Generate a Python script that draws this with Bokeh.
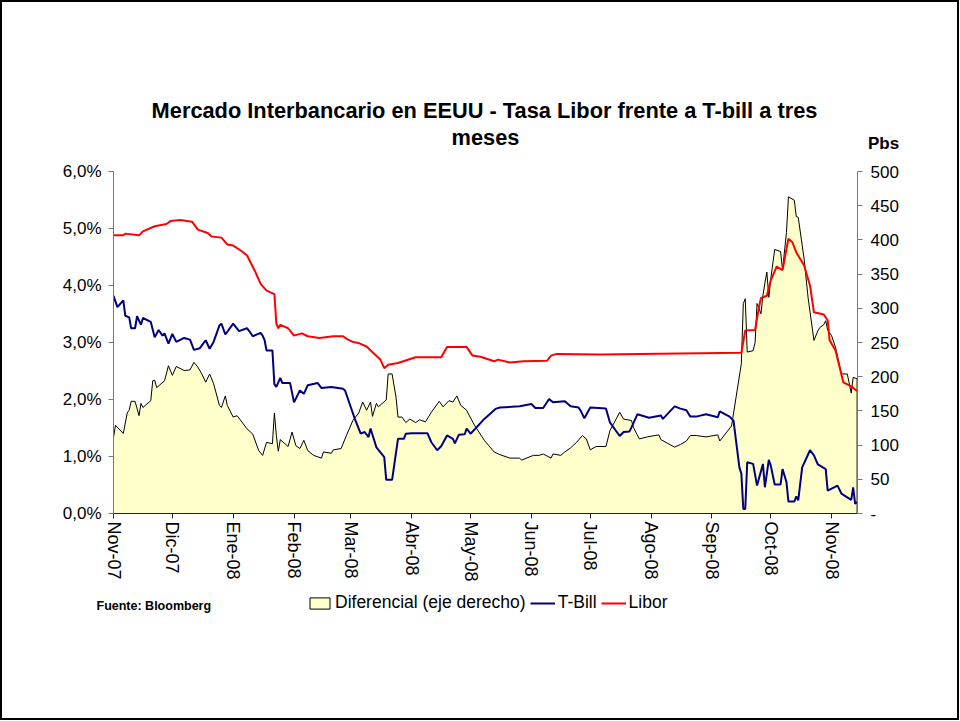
import pandas as pd
from bokeh.plotting import figure
from bokeh.layouts import column
from bokeh.models import (Range1d, LinearAxis, FixedTicker, Label, Legend, LegendItem)
from bokeh.embed import file_html
from bokeh.resources import INLINE

# ---------------- data ----------------
inicio = "2007-11-01"
meses_fechas = ["2007-11-01", "2007-12-01", "2008-01-01", "2008-02-01", "2008-03-01",
                "2008-04-01", "2008-05-01", "2008-06-01", "2008-07-01", "2008-08-01",
                "2008-09-01", "2008-10-01", "2008-11-01"]
meses_etiquetas = ["Nov-07", "Dic-07", "Ene-08", "Feb-08", "Mar-08", "Abr-08", "May-08",
                   "Jun-08", "Jul-08", "Ago-08", "Sep-08", "Oct-08", "Nov-08"]
fin_dias = 379.2

# Libor 3M (%), days since start
libor_dia = [0, 5, 6, 13, 15, 21, 27, 29, 34, 40, 43, 48, 50, 55, 58, 61, 65, 68, 72, 75,
             78, 82, 83, 84, 85, 89, 92, 96, 99, 105, 112, 117, 119, 122, 125, 129, 132, 136, 138, 140,
             145, 154, 167, 170, 180, 183, 187, 194, 196, 202, 209, 221, 223, 226, 248, 268, 320, 322, 327, 329,
             330, 333, 335, 338, 341, 344, 346, 348, 352, 355, 357, 362, 364, 365, 368, 372, 376, 379]
libor = [4.88, 4.88, 4.91, 4.88, 4.95, 5.04, 5.08, 5.13, 5.15, 5.12, 4.98, 4.92, 4.86, 4.84, 4.72, 4.70, 4.61, 4.53, 4.26, 4.03,
         3.91, 3.85, 3.33, 3.25, 3.31, 3.25, 3.12, 3.16, 3.11, 3.08, 3.11, 3.11, 3.06, 3.01, 2.99, 2.93, 2.83, 2.70, 2.55, 2.61,
         2.64, 2.74, 2.74, 2.92, 2.92, 2.77, 2.75, 2.67, 2.70, 2.65, 2.67, 2.68, 2.77, 2.80, 2.79, 2.80, 2.82, 3.21, 3.22, 3.62,
         3.78, 3.82, 4.09, 4.33, 4.27, 4.82, 4.76, 4.58, 4.35, 4.00, 3.53, 3.49, 3.39, 3.04, 2.86, 2.30, 2.23, 2.15]

# T-Bill 3M (%)
tbill_dia = [0, 2, 5, 6, 8, 9, 11, 12, 14, 15, 19, 21, 23, 25, 26, 28, 30, 32, 36, 39,
             41, 44, 47, 49, 51, 54, 55, 57, 61, 64, 68, 69, 71, 75, 76, 77, 78, 81, 82, 83,
             85, 86, 90, 92, 95, 97, 99, 104, 106, 111, 117, 118, 121, 123, 126, 128, 130, 131, 134, 138,
             139, 142, 145, 148, 149, 152, 160, 162, 165, 167, 170, 173, 174, 176, 179, 180, 182, 189, 195, 197,
             207, 213, 215, 219, 222, 224, 230, 233, 237, 238, 240, 243, 251, 253, 258, 260, 263, 264, 267, 273,
             279, 280, 286, 289, 292, 294, 297, 302, 308, 309, 314, 316, 319, 320, 321, 322, 323, 326, 328, 331,
             332, 334, 335, 337, 340, 341, 343, 344, 347, 348, 349, 351, 355, 357, 359, 363, 364, 369, 371, 376,
             377, 378, 379]
tbill = [3.82, 3.62, 3.74, 3.47, 3.44, 3.25, 3.25, 3.46, 3.31, 3.43, 3.36, 3.09, 3.22, 3.12, 3.16, 2.98, 3.15, 3.01, 3.08, 3.05,
         2.87, 2.90, 3.04, 2.89, 3.01, 3.30, 3.33, 3.14, 3.33, 3.20, 3.25, 3.21, 3.11, 3.17, 3.12, 3.04, 2.86, 2.86, 2.27, 2.22,
         2.38, 2.29, 2.29, 1.95, 2.16, 2.10, 2.25, 2.29, 2.20, 2.22, 2.19, 2.16, 1.86, 1.66, 1.40, 1.43, 1.34, 1.49, 1.16, 0.99,
         0.59, 0.59, 1.31, 1.31, 1.40, 1.41, 1.41, 1.25, 1.11, 1.18, 1.37, 1.31, 1.23, 1.38, 1.39, 1.49, 1.40, 1.66, 1.84, 1.86,
         1.88, 1.92, 1.85, 1.85, 2.01, 1.95, 1.97, 1.88, 1.86, 1.81, 1.67, 1.86, 1.84, 1.60, 1.36, 1.43, 1.44, 1.51, 1.74, 1.68,
         1.72, 1.66, 1.88, 1.84, 1.81, 1.70, 1.70, 1.74, 1.69, 1.79, 1.70, 1.63, 0.81, 0.70, 0.08, 0.08, 0.90, 0.87, 0.49, 0.87,
         0.46, 0.94, 0.84, 0.51, 0.51, 0.78, 0.55, 0.21, 0.21, 0.30, 0.23, 0.81, 1.11, 1.02, 0.86, 0.78, 0.40, 0.49, 0.35, 0.24,
         0.46, 0.17, 0.20]

# Diferencial Libor - T-Bill (pbs, right axis)
dif_dia = [0, 1, 5, 7, 8, 9, 11, 13, 14, 15, 19, 20, 21, 22, 26, 28, 30, 32, 36, 39,
           41, 43, 45, 47, 49, 51, 54, 55, 57, 58, 61, 63, 68, 71, 74, 76, 78, 81, 82, 83,
           84, 85, 89, 91, 93, 95, 97, 99, 102, 106, 107, 111, 112, 116, 119, 122, 125, 127, 129, 131,
           132, 134, 135, 139, 140, 142, 144, 145, 147, 149, 151, 154, 156, 159, 162, 166, 168, 171, 173, 175,
           177, 180, 181, 184, 189, 194, 197, 202, 207, 208, 214, 217, 219, 223, 224, 228, 230, 233, 236, 239,
           241, 243, 246, 251, 253, 258, 260, 264, 265, 268, 272, 278, 279, 286, 289, 292, 294, 297, 302, 308,
           309, 315, 320, 321, 322, 323, 326, 327, 328, 330, 331, 332, 333, 334, 335, 337, 340, 341, 343, 344,
           347, 348, 349, 352, 354, 357, 359, 360, 362, 363, 364, 366, 368, 371, 374, 376, 377, 379]
dif = [111, 129, 117, 147, 151, 164, 164, 143, 161, 155, 165, 194, 195, 184, 194, 216, 202, 215, 209, 210,
       221, 214, 204, 192, 204, 190, 158, 155, 172, 158, 141, 143, 124, 116, 92, 85, 104, 102, 147, 114,
       91, 108, 98, 119, 99, 95, 107, 92, 85, 81, 90, 88, 93, 95, 116, 136, 147, 163, 151, 163,
       142, 161, 156, 166, 204, 204, 170, 141, 141, 133, 138, 133, 137, 134, 148, 164, 156, 165, 163, 172,
       158, 151, 145, 129, 107, 90, 86, 81, 81, 78, 85, 85, 87, 81, 87, 85, 90, 96, 104, 114,
       109, 93, 98, 98, 121, 148, 138, 136, 126, 109, 112, 115, 108, 97, 101, 106, 114, 114, 112, 115,
       106, 128, 219, 307, 314, 236, 238, 250, 307, 292, 319, 337, 353, 316, 343, 386, 383, 356, 411, 463,
       458, 434, 433, 372, 316, 253, 267, 272, 276, 282, 268, 260, 243, 204, 204, 176, 199, 197]

assert len(libor_dia) == len(libor)
assert len(tbill_dia) == len(tbill)
assert len(dif_dia) == len(dif)

pct_ticks = [0, 1, 2, 3, 4, 5, 6]
pbs_ticks = [0, 50, 100, 150, 200, 250, 300, 350, 400, 450, 500]

titulo_1 = "Mercado Interbancario en EEUU - Tasa Libor frente a T-bill a tres"
titulo_2 = "meses"
unidad_der = "Pbs"
fuente = "Fuente: Bloomberg"
serie_nombres = ["Diferencial (eje derecho)", "T-Bill", "Libor"]

FONT = "Liberation Sans"
W = 955
H_TOP = 155
H_MAIN = 433
H_BOT = 128

COL_DIF_FILL = "#FFFFCC"
COL_TB = "#000080"
COL_LB = "#FF0000"


def no_align(f):
    if "frame_align" in f.properties():
        f.frame_align = False


def strip(height):
    f = figure(width=W, height=height, output_backend="svg", toolbar_location=None,
               x_range=Range1d(0, W), y_range=Range1d(height, 0),
               x_axis_type=None, y_axis_type=None, min_border=0)
    f.outline_line_color = None
    f.background_fill_color = "white"
    f.border_fill_color = "white"
    no_align(f)
    return f


# ---------------- header strip (title and right-axis unit) ----------------
top = strip(H_TOP)
top.add_layout(Label(x=482, y=108, text=titulo_1, text_align="center", text_baseline="middle",
                     text_font=FONT, text_font_style="bold", text_font_size="21.8px", text_color="black"))
top.add_layout(Label(x=483, y=135, text=titulo_2, text_align="center", text_baseline="middle",
                     text_font=FONT, text_font_style="bold", text_font_size="21.8px", text_color="black"))
top.add_layout(Label(x=881, y=141, text=unidad_der, text_align="center", text_baseline="middle",
                     text_font=FONT, text_font_style="bold", text_font_size="17px", text_color="black"))

# ---------------- main chart ----------------
t0 = pd.Timestamp(inicio)
mes_pos = [(pd.Timestamp(f) - t0).days for f in meses_fechas]

p = figure(width=W, height=H_MAIN, output_backend="svg", toolbar_location=None,
           x_range=Range1d(0, fin_dias), y_range=Range1d(0, 6),
           x_axis_type=None, y_axis_type=None,
           min_border_left=111, min_border_right=100, min_border_top=14, min_border_bottom=77)
p.extra_y_ranges = {"pbs": Range1d(0, 500)}
p.outline_line_color = None
p.background_fill_color = "white"
p.border_fill_color = "white"
no_align(p)

p.patch([dif_dia[0]] + dif_dia + [dif_dia[-1]], [0] + dif + [0], y_range_name="pbs",
        fill_color=COL_DIF_FILL, line_color="black", line_width=1)
p.line(tbill_dia, tbill, line_color=COL_TB, line_width=2)
p.line(libor_dia, libor, line_color=COL_LB, line_width=2)


def style_axis(ax, color, size="17px"):
    ax.axis_line_color = color
    ax.major_tick_line_color = color
    ax.minor_tick_line_color = None
    ax.major_tick_out = 5
    ax.major_tick_in = 0
    ax.major_label_text_font = FONT
    ax.major_label_text_font_size = size
    ax.major_label_text_color = "black"


ax_left = LinearAxis(ticker=FixedTicker(ticks=pct_ticks),
                     major_label_overrides={t: f"{t},0%" for t in pct_ticks})
style_axis(ax_left, "#777777")
ax_left.major_label_standoff = 7
p.add_layout(ax_left, "left")

ax_right = LinearAxis(y_range_name="pbs", ticker=FixedTicker(ticks=pbs_ticks),
                      major_label_overrides={0: "-"})
style_axis(ax_right, "#777777")
ax_right.major_label_standoff = 8
p.add_layout(ax_right, "right")

ax_bottom = LinearAxis(ticker=FixedTicker(ticks=mes_pos),
                       major_label_overrides=dict(zip(mes_pos, meses_etiquetas)))
style_axis(ax_bottom, "#222222", "18px")
ax_bottom.major_label_orientation = "vertical"
ax_bottom.major_label_standoff = 3
p.add_layout(ax_bottom, "below")

# ---------------- footer strip (source and legend) ----------------
bot = strip(H_BOT)
bot.extra_y_ranges = {"fuera": Range1d(-2000, -1000)}   # legend proxies: same series, mapped off-canvas
bot.add_layout(Label(x=94, y=15, text=fuente, text_align="left", text_baseline="middle",
                     text_font=FONT, text_font_style="bold", text_font_size="12.5px", text_color="black"))
k_dif = bot.patch([dif_dia[0]] + dif_dia + [dif_dia[-1]], [0] + dif + [0], y_range_name="fuera",
                  fill_color=COL_DIF_FILL, line_color="black", line_width=1)
k_tb = bot.line(tbill_dia, tbill, y_range_name="fuera", line_color=COL_TB, line_width=2)
k_lb = bot.line(libor_dia, libor, y_range_name="fuera", line_color=COL_LB, line_width=2)
legend = Legend(items=[LegendItem(label=serie_nombres[0], renderers=[k_dif]),
                       LegendItem(label=serie_nombres[1], renderers=[k_tb]),
                       LegendItem(label=serie_nombres[2], renderers=[k_lb])],
                orientation="horizontal", location=(305, H_BOT - 23), padding=0, margin=0, spacing=4,
                glyph_width=25, glyph_height=14, label_standoff=3,
                border_line_color=None, background_fill_alpha=0,
                label_text_font=FONT, label_text_font_size="17.5px", label_text_color="black")
bot.add_layout(legend, "center")

layout = column(top, p, bot, spacing=0, styles={"border": "2px solid black", "background": "white"})

open("out.html", "w").write(file_html(layout, INLINE))
